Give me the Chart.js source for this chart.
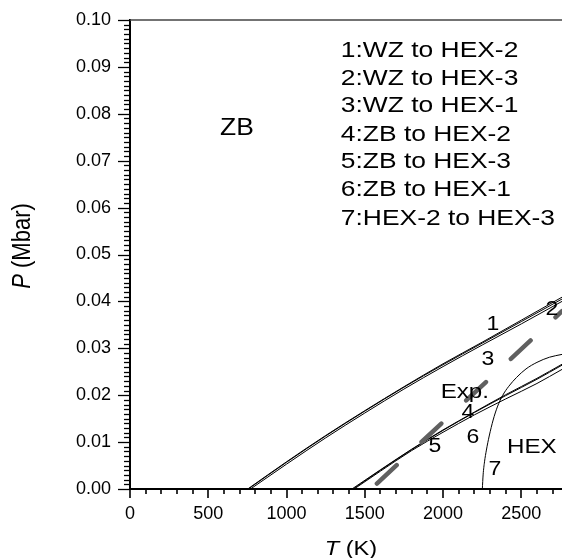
<!DOCTYPE html>
<html><head><meta charset="utf-8">
<script src="https://cdn.jsdelivr.net/npm/chart.js@4.4.1/dist/chart.umd.min.js"></script>
<style>html,body{margin:0;padding:0;background:#fff;overflow:hidden}#wrap{width:562px;height:558px;position:relative}</style>
</head><body><div id="wrap"><canvas id="c" width="562" height="558"></canvas></div>
<script>
// ---- data (T in K, P in Mbar) ----
const xTickLabels = [0, 500, 1000, 1500, 2000, 2500];
const yTickLabels = [0, 0.01, 0.02, 0.03, 0.04, 0.05, 0.06, 0.07, 0.08, 0.09, 0.10];

// 1: WZ to HEX-2
const wz1T = [752, 1000, 1250, 1500, 1750, 2000, 2250, 2500, 2760];
const wz1P = [0, 0.0058, 0.0114, 0.0167, 0.0218, 0.0267, 0.0313, 0.0360, 0.0409];
// 2: WZ to HEX-3
const wz2T = [770, 1000, 1250, 1500, 1750, 2000, 2250, 2500, 2760];
const wz2P = [0, 0.0053, 0.0109, 0.0162, 0.0213, 0.0261, 0.0307, 0.0352, 0.0400];
// 3: WZ to HEX-1
const wz3T = [756, 1000, 1250, 1500, 1750, 2000, 2250, 2500, 2760];
const wz3P = [0, 0.0057, 0.0113, 0.0166, 0.0217, 0.0265, 0.0311, 0.0357, 0.0405];
// 4: ZB to HEX-2
const zb4T = [1418, 1600, 1800, 2000, 2200, 2400, 2600, 2760];
const zb4P = [0, 0.0041, 0.0085, 0.0126, 0.0164, 0.0201, 0.0236, 0.0266];
// 5: ZB to HEX-3
const zb5T = [1425, 1600, 1800, 2000, 2200, 2400, 2600, 2760];
const zb5P = [0, 0.0040, 0.0084, 0.0125, 0.0163, 0.0199, 0.0234, 0.0264];
// 6: ZB to HEX-1
const zb6T = [1432, 1600, 1800, 2000, 2200, 2400, 2600, 2760];
const zb6P = [0, 0.0038, 0.0082, 0.0121, 0.0158, 0.0192, 0.0225, 0.0255];
// 7: HEX-2 to HEX-3
const h7T = [2251, 2256, 2265, 2277, 2295, 2320, 2347, 2380, 2420, 2470, 2530, 2600, 2680, 2760];
const h7P = [0, 0.0030, 0.0058, 0.0083, 0.0113, 0.0147, 0.0175, 0.0199, 0.0219, 0.0238, 0.0256, 0.0270, 0.0281, 0.0287];
// Exp.
const expT = [1540, 2760];
const expP = [0, 0.0379];

// legend text block and in-plot labels
const legendLines = ['1:WZ to HEX-2', '2:WZ to HEX-3', '3:WZ to HEX-1', '4:ZB to HEX-2', '5:ZB to HEX-3', '6:ZB to HEX-1', '7:HEX-2 to HEX-3'];
const legendT = 1347;
const legendP = [0.0938, 0.0878, 0.0821, 0.0759, 0.0701, 0.0642, 0.0580];
const labelText = ['ZB', '1', '2', '3', 'Exp.', '4', '6', '5', 'HEX', '7'];
const labelT = [683, 2318, 2695, 2286, 2139, 2158, 2190, 1948, 2567, 2331];
const labelP = [0.0772, 0.0356, 0.0386, 0.0281, 0.0211, 0.0168, 0.0115, 0.0094, 0.0094, 0.0045];
const labelSize = [23, 20, 20, 20, 21, 20, 20, 20, 21, 20];

const FONT = '"Liberation Sans", Arial, Helvetica, sans-serif';
const pts = (T, P) => T.map((t, i) => ({x: t, y: P[i]}));
const line = (label, T, P, extra) => Object.assign({
  label, data: pts(T, P), showLine: true, pointRadius: 0, borderColor: '#000',
  borderWidth: 1, fill: false, cubicInterpolationMode: 'monotone'
}, extra || {});

function stretchText(ctx, text, x, y, size, align, sx, italic) {
  ctx.save();
  ctx.translate(x, y + 2);
  ctx.scale(sx, 1);
  ctx.font = (italic ? 'italic ' : '') + size + 'px ' + FONT;
  ctx.textAlign = align;
  ctx.textBaseline = 'middle';
  ctx.fillStyle = '#000';
  ctx.fillText(text, 0, 0);
  ctx.restore();
}

const decor = {
  id: 'decor',
  afterDraw(chart) {
    const ctx = chart.ctx, xs = chart.scales.x, ys = chart.scales.y, a = chart.chartArea;
    ctx.save();
    // top frame line
    ctx.strokeStyle = '#444'; ctx.lineWidth = 1.5;
    ctx.beginPath(); ctx.moveTo(a.left, a.top); ctx.lineTo(a.right, a.top); ctx.stroke();
    // y ticks (minor every 0.001)
    ctx.strokeStyle = '#000'; ctx.lineWidth = 1.3;
    for (let i = 0; i <= 100; i++) {
      const py = Math.round(ys.getPixelForValue(i / 1000)) + 0.5;
      const len = i % 10 === 0 ? 12 : 6;
      ctx.beginPath(); ctx.moveTo(a.left - len, py); ctx.lineTo(a.left, py); ctx.stroke();
    }
    // x ticks (minor every 100)
    ctx.lineWidth = 1.6;
    for (let t = 0; t <= xs.max; t += 100) {
      const px = Math.round(xs.getPixelForValue(t));
      const len = t % 500 === 0 ? 9 : 5;
      ctx.beginPath(); ctx.moveTo(px, a.bottom); ctx.lineTo(px, a.bottom + len); ctx.stroke();
    }
    ctx.restore();
    // axis titles
    ctx.save();
    ctx.font = 'italic 20px ' + FONT;
    const tw = ctx.measureText('T').width;
    ctx.font = '20px ' + FONT;
    const kw = ctx.measureText(' (K)').width;
    const sx = 1.18;
    const cx = (a.left + a.right) / 2 + 5, cy = 547;
    const startX = cx - (tw + kw) * sx / 2;
    stretchText(ctx, 'T', startX, cy, 20, 'left', sx, true);
    stretchText(ctx, ' (K)', startX + tw * sx, cy, 20, 'left', sx, false);
    ctx.restore();
    ctx.save();
    ctx.translate(23, 246);
    ctx.rotate(-Math.PI / 2);
    ctx.scale(1.1, 1.25);
    ctx.font = 'italic 20px ' + FONT;
    const pw = ctx.measureText('P').width;
    ctx.font = '20px ' + FONT;
    const mw = ctx.measureText(' (Mbar)').width;
    ctx.textBaseline = 'middle'; ctx.textAlign = 'left'; ctx.fillStyle = '#000';
    ctx.font = 'italic 20px ' + FONT;
    ctx.fillText('P', -(pw + mw) / 2, 0);
    ctx.font = '20px ' + FONT;
    ctx.fillText(' (Mbar)', -(pw + mw) / 2 + pw, 0);
    ctx.restore();
    // legend text block
    legendLines.forEach((s, i) => {
      stretchText(ctx, s, xs.getPixelForValue(legendT), ys.getPixelForValue(legendP[i]), 22, 'left', 1.2, false);
    });
    // in-plot labels
    labelText.forEach((s, i) => {
      stretchText(ctx, s, xs.getPixelForValue(labelT[i]), ys.getPixelForValue(labelP[i]), labelSize[i], 'center', 1.15, false);
    });
  }
};

new Chart(document.getElementById('c'), {
  type: 'scatter',
  data: {
    datasets: [
      line('Exp.', expT, expP, {borderColor: '#606060', borderWidth: 4.5, borderDash: [27, 34], borderDashOffset: -8, borderCapStyle: 'round', cubicInterpolationMode: 'default'}),
      line('1:WZ to HEX-2', wz1T, wz1P),
      line('2:WZ to HEX-3', wz2T, wz2P),
      line('3:WZ to HEX-1', wz3T, wz3P),
      line('4:ZB to HEX-2', zb4T, zb4P),
      line('5:ZB to HEX-3', zb5T, zb5P),
      line('6:ZB to HEX-1', zb6T, zb6P),
      line('7:HEX-2 to HEX-3', h7T, h7P)
    ]
  },
  options: {
    responsive: false, animation: false, devicePixelRatio: 1,
    layout: {padding: {top: 20, left: 0, right: 0, bottom: 0}},
    plugins: {legend: {display: false}, tooltip: {enabled: false}},
    scales: {
      x: {
        type: 'linear', min: 0, max: 2760,
        grid: {display: false, drawTicks: false},
        border: {display: true, color: '#000', width: 2},
        ticks: {color: '#000', font: {family: FONT, size: 18}, padding: 14, maxRotation: 0, autoSkip: false, callback: v => String(v)},
        afterBuildTicks: s => { s.ticks = xTickLabels.map(v => ({value: v})); },
        afterFit: s => { s.height = 69; s.paddingLeft = 0; s.paddingRight = 0; }
      },
      y: {
        type: 'linear', min: 0, max: 0.1,
        grid: {display: false, drawTicks: false},
        border: {display: true, color: '#000', width: 2},
        ticks: {color: '#000', font: {family: FONT, size: 18}, padding: 19, autoSkip: false, callback: v => Number(v).toFixed(2)},
        afterBuildTicks: s => { s.ticks = yTickLabels.map(v => ({value: v})); },
        afterFit: s => { s.width = 130; s.paddingTop = 0; s.paddingBottom = 0; }
      }
    }
  },
  plugins: [decor]
});
</script>
</body></html>
